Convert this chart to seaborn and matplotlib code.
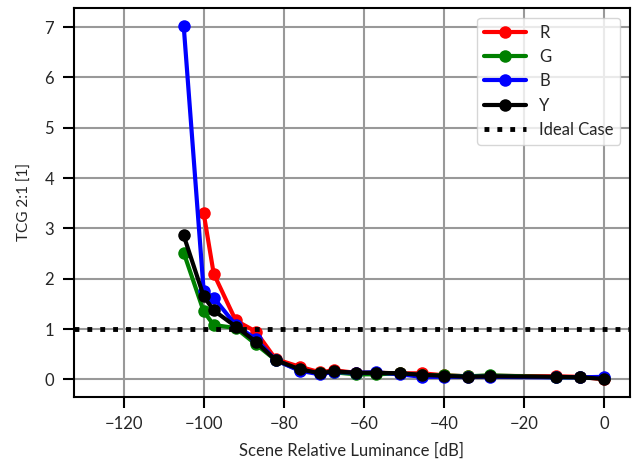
import pandas as pd
import matplotlib
matplotlib.use("Agg")
import matplotlib.pyplot as plt
import seaborn as sns

# scene relative luminance [dB]
lum = [-105, -100, -97.5, -92, -87, -82, -76, -71, -67.5, -62, -57, -51,
       -45.5, -40, -34, -28.5, -12, -6, 0]

# TCG 2:1 per channel (R has no point at -105 dB)
tcg_r = [None, 3.30, 2.10, 1.17, 0.95, 0.40, 0.25, 0.14, 0.18, 0.13, 0.13, 0.12,
         0.12, 0.08, 0.06, 0.07, 0.06, 0.05, 0.00]
tcg_g = [2.52, 1.35, 1.08, 1.02, 0.70, 0.38, 0.18, 0.12, 0.14, 0.10, 0.10, 0.12,
         0.08, 0.08, 0.06, 0.08, 0.04, 0.04, 0.02]
tcg_b = [7.03, 1.75, 1.62, 1.08, 0.80, 0.38, 0.17, 0.10, 0.15, 0.13, 0.14, 0.10,
         0.05, 0.05, 0.05, 0.05, 0.04, 0.04, 0.05]
tcg_y = [2.86, 1.65, 1.37, 1.05, 0.75, 0.38, 0.20, 0.12, 0.16, 0.13, 0.13, 0.12,
         0.09, 0.07, 0.05, 0.06, 0.05, 0.04, 0.01]
ideal = 1.0

series = {"R": tcg_r, "G": tcg_g, "B": tcg_b, "Y": tcg_y}
colors = {"R": "red", "G": "green", "B": "blue", "Y": "black"}

sns.set_style("whitegrid", {"grid.color": "#999999", "axes.edgecolor": "black"})
plt.rcParams["font.family"] = ["Lato", "DejaVu Sans"]

fig = plt.figure(figsize=(6.34, 4.66), dpi=100)
ax = fig.add_axes([0.116, 0.148, 0.878, 0.835])

for name, vals in series.items():
    df = pd.DataFrame({"x": lum, "y": vals}).dropna()
    sns.lineplot(data=df, x="x", y="y", color=colors[name], marker="o",
                 markersize=9, markeredgewidth=0, linewidth=3, label=name, ax=ax)

ax.axhline(ideal, color="black", linestyle=":", linewidth=3.5, label="Ideal Case")

ax.set_xlim(-132.5, 6.5)
ax.set_xticks([-120, -100, -80, -60, -40, -20, 0])
ax.set_yticks(range(0, 8))
ax.grid(True, color="#999999", linewidth=1.5)
for s in ax.spines.values():
    s.set_color("black")
    s.set_linewidth(1.5)
ax.tick_params(axis="both", which="both", length=8, width=1.5, color="black",
               labelsize=12, pad=6, left=True, bottom=True)

ax.set_xlabel("Scene Relative Luminance [dB]", fontsize=12, labelpad=7)
ax.set_ylabel("TCG 2:1 [1]", fontsize=11, labelpad=9)

leg = ax.legend(loc="upper right", fontsize=12, frameon=True, framealpha=0.8,
                handlelength=2.5, borderaxespad=0.6)
leg.get_frame().set_edgecolor("#cccccc")

fig.savefig("out.png", dpi=100)
